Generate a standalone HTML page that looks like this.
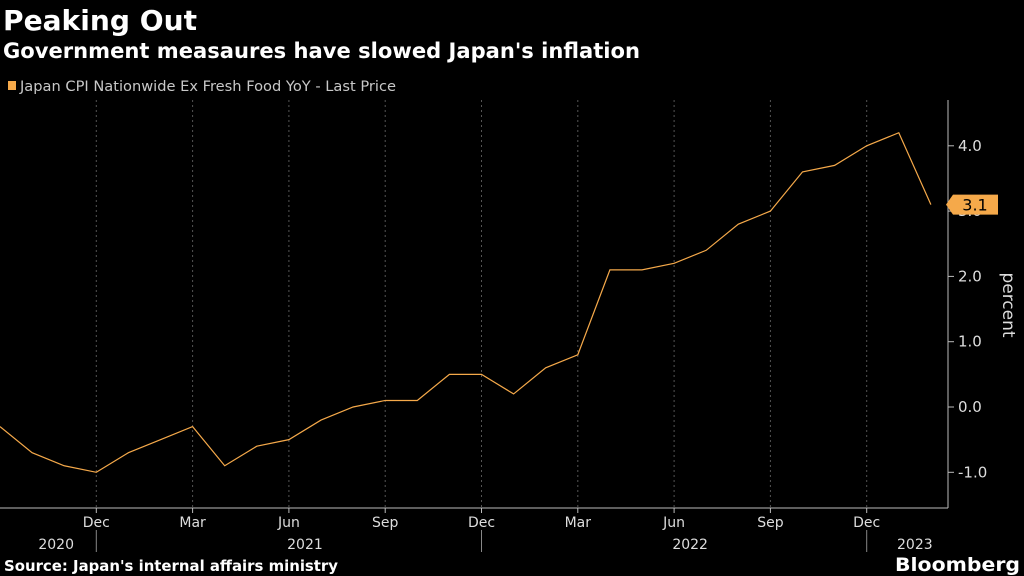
<!DOCTYPE html>
<html><head><meta charset="utf-8"><style>
body{margin:0;background:#000;width:1024px;height:576px;overflow:hidden;font-family:"DejaVu Sans","Liberation Sans",sans-serif;}
svg{position:absolute;left:0;top:0;font-family:"DejaVu Sans","Liberation Sans",sans-serif}
</style></head><body>
<svg width="1024" height="576" id="c">
<text x="3" y="30" fill="#fff" font-size="28" font-weight="bold" textLength="194" lengthAdjust="spacingAndGlyphs">Peaking Out</text>
<text x="3" y="58" fill="#fff" font-size="21" font-weight="bold" textLength="637" lengthAdjust="spacingAndGlyphs">Government measaures have slowed Japan's inflation</text>
<rect x="8" y="81" width="8" height="9" fill="#f5a94a"/>
<text x="20" y="91" fill="#c8c8c8" font-size="14.5" textLength="376" lengthAdjust="spacingAndGlyphs">Japan CPI Nationwide Ex Fresh Food YoY - Last Price</text>
<line x1="0" y1="508" x2="948" y2="508" stroke="#bbb"/>
<line x1="948" y1="100" x2="948" y2="508" stroke="#bbb"/>
<text transform="translate(1003,305) rotate(90)" fill="#ddd" font-size="17" text-anchor="middle">percent</text>
<g id="g"></g>
<text x="4" y="571" fill="#fff" font-size="15" font-weight="bold" textLength="334" lengthAdjust="spacingAndGlyphs">Source: Japan's internal affairs ministry</text>
<text x="895" y="571" fill="#fff" font-size="19" font-weight="bold" textLength="125" lengthAdjust="spacingAndGlyphs">Bloomberg</text>
</svg>
<script>
const months=['Sep20','Oct20','Nov20','Dec20','Jan21','Feb21','Mar21','Apr21','May21','Jun21','Jul21','Aug21','Sep21','Oct21','Nov21','Dec21','Jan22','Feb22','Mar22','Apr22','May22','Jun22','Jul22','Aug22','Sep22','Oct22','Nov22','Dec22','Jan23','Feb23'];
const values=[-0.3,-0.7,-0.9,-1.0,-0.7,-0.5,-0.3,-0.9,-0.6,-0.5,-0.2,0.0,0.1,0.1,0.5,0.5,0.2,0.6,0.8,2.1,2.1,2.2,2.4,2.8,3.0,3.6,3.7,4.0,4.2,3.1];
const yTicks=[4,3,2,1,0,-1];
const yTickLabels=['4.0','3.0','2.0','1.0','0.0','-1.0'];
const xTickIdx=[3,6,9,12,15,18,21,24,27];
const xTickLabels=['Dec','Mar','Jun','Sep','Dec','Mar','Jun','Sep','Dec'];
const years=['2020','2021','2022','2023'];
const yearStartIdx=[-1,3.5,15.5,27.5];
const yearEndIdx=[3.5,15.5,27.5,29.5];
const NS='http://www.w3.org/2000/svg';
const g=document.getElementById('g');
const X=i=>i*32.1, Y=v=>407-v*65.3;
function mk(t,a){const e=document.createElementNS(NS,t);for(const k in a)e.setAttribute(k,a[k]);g.appendChild(e);return e;}
xTickIdx.forEach((i,k)=>{
 const l=mk('line',{x1:X(i),x2:X(i),y1:100,y2:508,stroke:'#555','stroke-dasharray':'2,3'});
 
 
 const t=mk('line',{x1:X(i),x2:X(i),y1:508,y2:513,stroke:'#bbb'});
 
 
 const tx=mk('text',{x:X(i),y:527,fill:'#ddd','font-size':14,'text-anchor':'middle'});tx.textContent=xTickLabels[k];
 
 
});
years.forEach((y,k)=>{
 const a=Math.max(0,X(yearStartIdx[k])),b=Math.min(948,X(yearEndIdx[k]));
 const tx=mk('text',{x:(a+b)/2,y:549,fill:'#ddd','font-size':14,'text-anchor':'middle'});tx.textContent=y;
 
 
 if(k>0){const s=mk('line',{x1:X(yearStartIdx[k]-0.5),x2:X(yearStartIdx[k]-0.5),y1:530,y2:552,stroke:'#888'});
 
 }
});
yTicks.forEach((v,k)=>{
 const t=mk('line',{x1:948,x2:954,y1:Y(v),y2:Y(v),stroke:'#bbb'});
 
 
 const tx=mk('text',{x:958,y:Y(v)+5,fill:'#ddd','font-size':15});tx.textContent=yTickLabels[k];
 
 
});
const p=mk('polyline',{points:values.map((v,i)=>X(i)+','+Y(v)).join(' '),fill:'none',stroke:'#f5a94a','stroke-width':1.2});


const last=values[values.length-1],ly=Y(last);
const tag=mk('path',{d:`M946 ${ly} L953 ${ly-10} L998 ${ly-10} L998 ${ly+10} L953 ${ly+10} Z`,fill:'#f5a94a'});


const lt=mk('text',{x:975,y:ly+6,'font-size':16,'text-anchor':'middle',fill:'#000'});lt.textContent=last.toFixed(1);


</script>
</body></html>
